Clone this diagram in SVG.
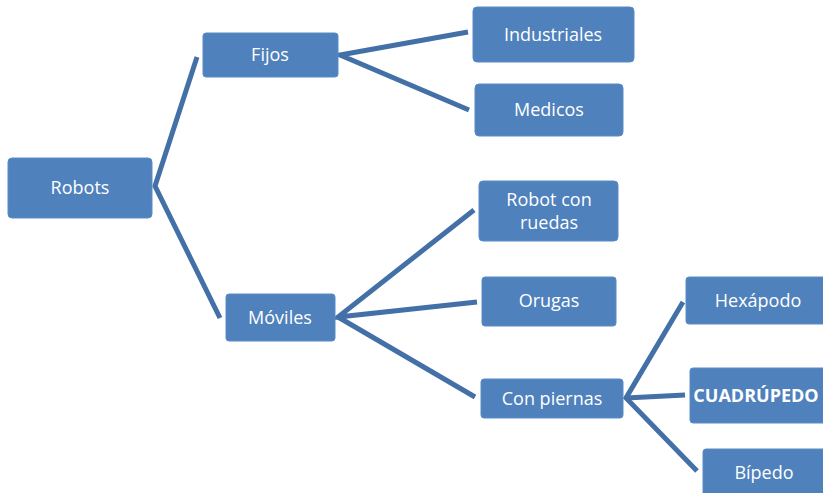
<svg xmlns="http://www.w3.org/2000/svg" width="823" height="493" viewBox="0 0 823 493">
<style>
.box{fill:#4f81bd;stroke:#5a8bc6;stroke-width:1}
.t{fill:#ffffff;font-family:"Open Sans","Liberation Sans",sans-serif;font-size:18px;text-anchor:middle;dominant-baseline:central}
.b{font-weight:bold}
.c{stroke:#4470a8;stroke-width:5;fill:none;stroke-linejoin:miter}
</style>
<rect width="823" height="493" fill="#ffffff"/>
<g id="connectors">
<polyline class="c" points="197,57 155,186 220,318"/>
<polyline class="c" points="468,32 340,55 469,110"/>
<polyline class="c" points="474,210 338,317 477,302"/>
<polyline class="c" points="338,317 475,397"/>
<polyline class="c" points="683,302 626,398 697,471"/>
<polyline class="c" points="626,398 685,395"/>
</g>
<g id="robots"><rect class="box" x="8" y="158" width="144" height="60" rx="4"/><text class="t" x="80" y="187">Robots</text></g>
<g id="fijos"><rect class="box" x="203" y="33" width="135" height="44" rx="3"/><text class="t" x="270" y="54">Fijos</text></g>
<g id="industriales"><rect class="box" x="473" y="7" width="161" height="55" rx="4"/><text class="t" x="553" y="34">Industriales</text></g>
<g id="medicos"><rect class="box" x="475" y="84" width="148" height="52" rx="4"/><text class="t" x="549" y="109">Medicos</text></g>
<g id="moviles"><rect class="box" x="226" y="294" width="109" height="47" rx="3"/><text class="t" x="280" y="317">Móviles</text></g>
<g id="ruedas"><rect class="box" x="479" y="181" width="139" height="60" rx="4"/><text class="t" x="549" y="199">Robot con</text><text class="t" x="549" y="222">ruedas</text></g>
<g id="orugas"><rect class="box" x="482" y="277" width="134" height="49" rx="3"/><text class="t" x="549" y="300">Orugas</text></g>
<g id="piernas"><rect class="box" x="481" y="379" width="142" height="39" rx="3"/><text class="t" x="552" y="398">Con piernas</text></g>
<g id="hexapodo"><rect class="box" x="686" y="277" width="145" height="47" rx="3"/><text class="t" x="758" y="300">Hexápodo</text></g>
<g id="cuadrupedo"><rect class="box" x="690" y="368" width="140" height="55" rx="3"/><text class="t b" x="756" y="395">CUADRÚPEDO</text></g>
<g id="bipedo"><rect class="box" x="703" y="449" width="130" height="50" rx="3"/><text class="t" x="764" y="472">Bípedo</text></g>
</svg>
